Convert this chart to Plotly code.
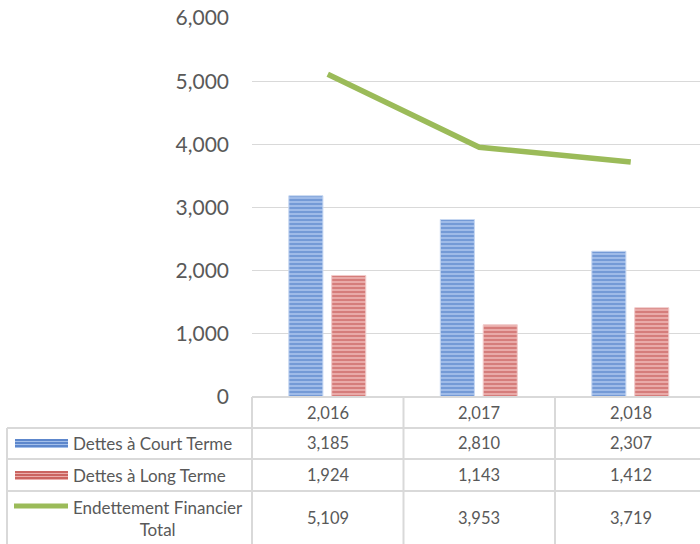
import plotly.graph_objects as go

years = [2016, 2017, 2018]
court_terme = [3185, 2810, 2307]
long_terme = [1924, 1143, 1412]
total = [5109, 3953, 3719]
series_names = ["Dettes à Court Terme", "Dettes à Long Terme", "Endettement Financier<br>Total"]

W, H = 700, 544
L, R, T, B = 252, 0, 18, 147
PW = W - L - R
PH = H - T - B
CAT_W = 151.5

def px2x(px):
    return (px - L) / PW

def py2y(py):
    return (H - B - py) / PH

FONT = "Lato, 'Open Sans', sans-serif"
GRAY = "#595959"
GRID = "#D9D9D9"
BLUE_L, BLUE_D = "#A3BFEA", "#4675C2"
RED_L, RED_D = "#EBAFAD", "#C04C49"

xs = list(range(len(years)))

fig = go.Figure()
fig.add_trace(go.Bar(
    x=xs, y=court_terme, name=series_names[0],
    width=0.225, offset=-0.257,
    marker=dict(color=BLUE_L,
                pattern=dict(shape="-", fgcolor=BLUE_D, bgcolor=BLUE_L, size=4, solidity=0.55),
                line=dict(color="#C6D7F1", width=1)),
    showlegend=False, hoverinfo="skip"))
fig.add_trace(go.Bar(
    x=xs, y=long_terme, name=series_names[1],
    width=0.225, offset=0.026,
    marker=dict(color=RED_L,
                pattern=dict(shape="-", fgcolor=RED_D, bgcolor=RED_L, size=4, solidity=0.55),
                line=dict(color="#F1CBCA", width=1)),
    showlegend=False, hoverinfo="skip"))
fig.add_trace(go.Scatter(
    x=xs, y=total, name="Endettement Financier Total", mode="lines",
    line=dict(color="#9BBB59", width=5.5),
    showlegend=False, hoverinfo="skip"))

shapes = []
def hline(y, x0, x1):
    shapes.append(dict(type="line", xref="paper", yref="paper",
                       x0=px2x(x0), x1=px2x(x1), y0=py2y(y), y1=py2y(y),
                       line=dict(color=GRID, width=2), layer="above"))
def vline(x, y0, y1):
    shapes.append(dict(type="line", xref="paper", yref="paper",
                       x0=px2x(x), x1=px2x(x), y0=py2y(y0), y1=py2y(y1),
                       line=dict(color=GRID, width=2), layer="above"))

hline(397, 252, 700)
for yy in [428, 459, 491]:
    hline(yy, 7, 700)
vline(7, 428, 544)
for k in range(len(years) + 1):
    vline(252 + CAT_W * k, 397, 544)

# legend keys
def key_rect(y0, y1, light, dark):
    shapes.append(dict(type="rect", xref="paper", yref="paper",
                       x0=px2x(15), x1=px2x(68), y0=py2y(y1), y1=py2y(y0),
                       fillcolor=light, line=dict(width=0)))
    yy = y0 + 1
    while yy < y1:
        shapes.append(dict(type="line", xref="paper", yref="paper",
                           x0=px2x(15), x1=px2x(68), y0=py2y(yy), y1=py2y(yy),
                           line=dict(color=dark, width=1.5)))
        yy += 3
key_rect(439, 448, BLUE_L, BLUE_D)
key_rect(471, 480, RED_L, RED_D)
shapes.append(dict(type="line", xref="paper", yref="paper",
                   x0=px2x(14), x1=px2x(68), y0=py2y(506), y1=py2y(506),
                   line=dict(color="#9BBB59", width=5)))

annotations = []
row_y = [443.5, 475, 518]
VAL_FONT = dict(size=16.5, color=GRAY, family=FONT)
for i, yr in enumerate(years):
    annotations.append(dict(x=i, xref="x", y=py2y(413), yref="paper", text=f"{yr:,}",
                            xanchor="center", yanchor="middle", showarrow=False, font=VAL_FONT))
    for vals, ry in zip([court_terme, long_terme, total], row_y):
        annotations.append(dict(x=i, xref="x", y=py2y(ry), yref="paper", text=f"{vals[i]:,}",
                                xanchor="center", yanchor="middle", showarrow=False, font=VAL_FONT))

LEG_FONT = dict(size=17, color=GRAY, family=FONT)
annotations.append(dict(x=px2x(71), xref="paper", y=py2y(443.5), yref="paper", text=series_names[0],
                        xanchor="left", yanchor="middle", showarrow=False, font=LEG_FONT))
annotations.append(dict(x=px2x(71), xref="paper", y=py2y(475), yref="paper", text=series_names[1],
                        xanchor="left", yanchor="middle", showarrow=False, font=LEG_FONT))
annotations.append(dict(x=px2x(158), xref="paper", y=py2y(518), yref="paper", text=series_names[2],
                        xanchor="center", yanchor="middle", align="center", showarrow=False,
                        font=LEG_FONT))

fig.update_layout(
    width=W, height=H,
    margin=dict(l=L, r=R, t=T, b=B, pad=0),
    paper_bgcolor="white", plot_bgcolor="white",
    barmode="overlay",
    shapes=shapes, annotations=annotations,
    font=dict(family=FONT, color=GRAY),
    xaxis=dict(range=[-0.5, -0.5 + PW / CAT_W], showticklabels=False, showgrid=False,
               zeroline=False, showline=False, ticks=""),
    yaxis=dict(range=[0, 6000], dtick=1000, tickformat=",", showgrid=True, gridcolor=GRID,
               gridwidth=1, zeroline=False, showline=False, ticks="",
               tickfont=dict(size=21, color=GRAY, family=FONT), ticklabelstandoff=22),
)

fig.write_html("out.html", config={"displayModeBar": False},
               post_script="document.body.style.margin='0';")
